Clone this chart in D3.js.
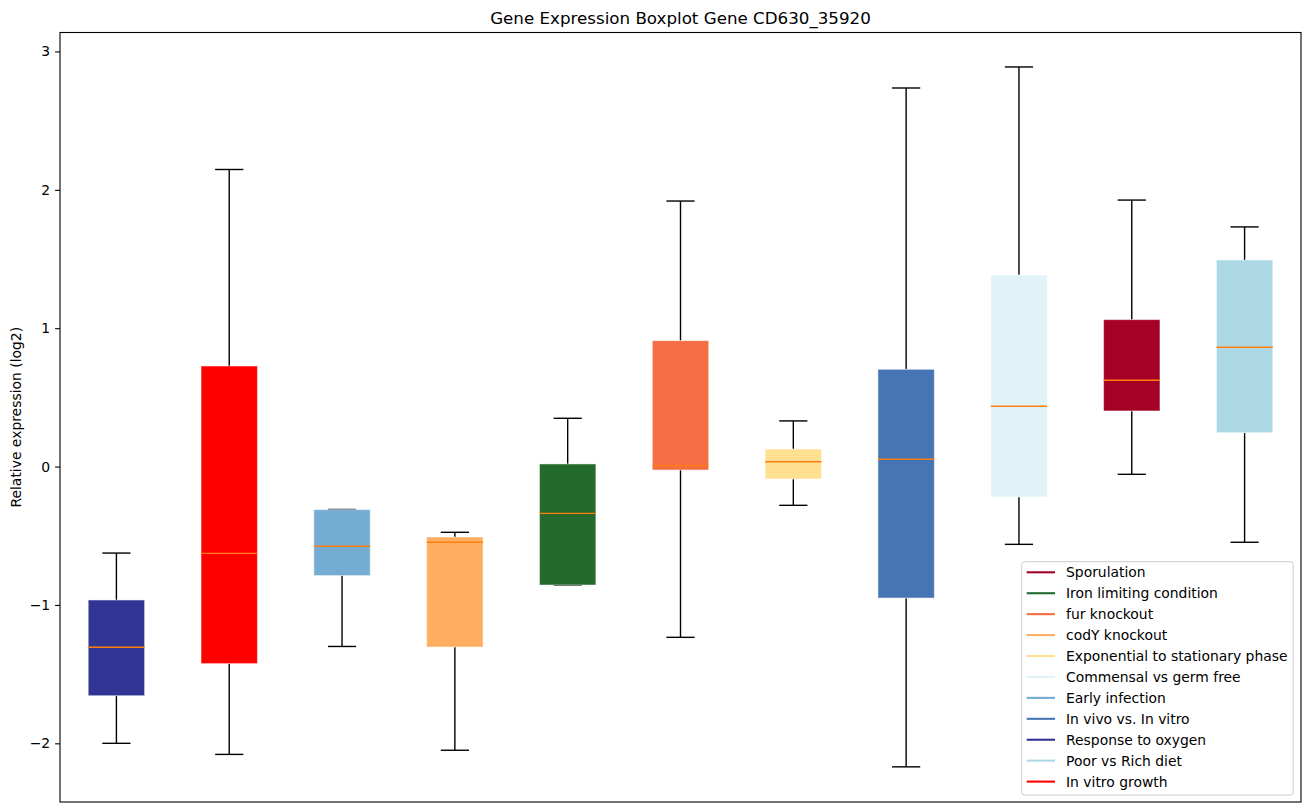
<!DOCTYPE html>
<html>
<head>
<meta charset="utf-8">
<script src="https://cdn.jsdelivr.net/npm/d3@7"></script>
<style>
  body { margin: 0; background: #fff; }
  svg { display: block; font-family: "DejaVu Sans", sans-serif; }
</style>
</head>
<body>
<div id="container"></div>
<script>
const width = 1309;
const height = 812;
const margin = { t: 32.5, r: 8, b: 10, l: 60 };

// boxes, left to right
const categories = [
  "Response to oxygen", "In vitro growth", "Early infection", "codY knockout",
  "Iron limiting condition", "fur knockout", "Exponential to stationary phase",
  "In vivo vs. In vitro", "Commensal vs germ free", "Sporulation", "Poor vs Rich diet"
];
const whiskerLow  = [-2.00, -2.08, -1.30, -2.05, -0.856, -1.234, -0.28, -2.17, -0.562, -0.056, -0.547];
const q1          = [-1.656, -1.424, -0.788, -1.304, -0.856, -0.025, -0.09, -0.95, -0.22, 0.402, 0.245];
const median      = [-1.306, -0.627, -0.576, -0.547, -0.338, 0.007, 0.035, 0.053, 0.436, 0.624, 0.862];
const q3          = [-0.964, 0.727, -0.311, -0.509, 0.019, 0.91, 0.127, 0.703, 1.385, 1.062, 1.493];
const whiskerHigh = [-0.625, 2.147, -0.31, -0.475, 0.349, 1.919, 0.33, 2.736, 2.888, 1.926, 1.732];
const colors = [
  "#313695", "#ff0000", "#74add1", "#fdae61", "#236a2c", "#f46d43",
  "#fee090", "#4575b4", "#e0f3f8", "#a50026", "#add8e6"
];
const legendOrder = [
  "Sporulation", "Iron limiting condition", "fur knockout", "codY knockout",
  "Exponential to stationary phase", "Commensal vs germ free", "Early infection",
  "In vivo vs. In vitro", "Response to oxygen", "Poor vs Rich diet", "In vitro growth"
];
const yTicks = [-2, -1, 0, 1, 2, 3];

const data = categories.map((c, i) => ({
  name: c, pos: i + 1, lo: whiskerLow[i], q1: q1[i], med: median[i],
  q3: q3[i], hi: whiskerHigh[i], color: colors[i]
}));

const x = d3.scaleLinear()
  .domain([0.5, categories.length + 0.5])
  .range([margin.l, width - margin.r]);

const y = d3.scaleLinear()
  .domain([-2.424, 3.137])
  .range([height - margin.b, margin.t]);

const boxW = x(1.25) - x(0.75);
const capW = boxW / 2;

const svg = d3.select("#container")
  .append("svg")
  .attr("width", width)
  .attr("height", height)
  .attr("viewBox", `0 0 ${width} ${height}`);

const g = svg.selectAll("g.box")
  .data(data)
  .enter()
  .append("g")
  .attr("class", "box");

// whiskers
g.append("line")
  .attr("x1", d => x(d.pos)).attr("x2", d => x(d.pos))
  .attr("y1", d => y(d.lo)).attr("y2", d => y(d.q1))
  .attr("stroke", "#000").attr("stroke-width", 1.4);
g.append("line")
  .attr("x1", d => x(d.pos)).attr("x2", d => x(d.pos))
  .attr("y1", d => y(d.q3)).attr("y2", d => y(d.hi))
  .attr("stroke", "#000").attr("stroke-width", 1.4);

// caps
g.append("line")
  .attr("x1", d => x(d.pos) - capW / 2).attr("x2", d => x(d.pos) + capW / 2)
  .attr("y1", d => y(d.lo)).attr("y2", d => y(d.lo))
  .attr("stroke", "#000").attr("stroke-width", 1.4);
g.append("line")
  .attr("x1", d => x(d.pos) - capW / 2).attr("x2", d => x(d.pos) + capW / 2)
  .attr("y1", d => y(d.hi)).attr("y2", d => y(d.hi))
  .attr("stroke", "#000").attr("stroke-width", 1.4);

// boxes
g.append("rect")
  .attr("x", d => x(d.pos) - boxW / 2)
  .attr("width", boxW)
  .attr("y", d => y(d.q3))
  .attr("height", d => y(d.q1) - y(d.q3))
  .attr("fill", d => d.color)
  .attr("stroke", "#fff")
  .attr("stroke-opacity", 0.5)
  .attr("stroke-width", 1);

// medians
g.append("line")
  .attr("x1", d => x(d.pos) - boxW / 2).attr("x2", d => x(d.pos) + boxW / 2)
  .attr("y1", d => y(d.med)).attr("y2", d => y(d.med))
  .attr("stroke", "#ff7f0e").attr("stroke-width", 1.4);

// y axis
const yAxis = svg.append("g")
  .attr("transform", `translate(${margin.l},0)`)
  .call(d3.axisLeft(y).tickValues(yTicks).tickSize(4.9).tickPadding(4.9)
    .tickFormat(d => d < 0 ? "\u2212" + Math.abs(d) : String(d)));
yAxis.select(".domain").remove();
yAxis.selectAll(".tick line").attr("stroke", "#000").attr("stroke-width", 1.1);
yAxis.selectAll(".tick text")
  .attr("fill", "#000")
  .attr("font-size", "13.9px")
  .attr("font-family", "DejaVu Sans, sans-serif");

// frame
svg.append("rect")
  .attr("x", margin.l)
  .attr("y", margin.t)
  .attr("width", width - margin.r - margin.l)
  .attr("height", height - margin.b - margin.t)
  .attr("fill", "none")
  .attr("stroke", "#000")
  .attr("stroke-width", 1.1);

// title
svg.append("text")
  .attr("x", (margin.l + width - margin.r) / 2)
  .attr("y", margin.t - 8.5)
  .attr("text-anchor", "middle")
  .attr("font-size", "16.7px")
  .text("Gene Expression Boxplot Gene CD630_35920");

// y label
const yMid = (margin.t + height - margin.b) / 2;
svg.append("text")
  .attr("transform", `translate(21,${yMid}) rotate(-90)`)
  .attr("text-anchor", "middle")
  .attr("font-size", "13.9px")
  .text("Relative expression (log2)");

// legend
const colorOf = new Map(categories.map((c, i) => [c, colors[i]]));
const lx = 1021.7, ly = 561.7, lw = 271.5, lh = 233.3, rowH = 20.93;
const legend = svg.append("g");
legend.append("rect")
  .attr("x", lx).attr("y", ly)
  .attr("width", lw).attr("height", lh)
  .attr("rx", 2.8)
  .attr("fill", "#fff").attr("fill-opacity", 0.8)
  .attr("stroke", "#cccccc").attr("stroke-width", 1);

const items = legend.selectAll("g.item")
  .data(legendOrder)
  .enter()
  .append("g")
  .attr("transform", (d, i) => `translate(0,${ly + 10.6 + i * rowH})`);
items.append("line")
  .attr("x1", lx + 5).attr("x2", lx + 33.3)
  .attr("y1", 0).attr("y2", 0)
  .attr("stroke", d => colorOf.get(d))
  .attr("stroke-width", 2.1);
items.append("text")
  .attr("x", 1066)
  .attr("y", 0)
  .attr("dy", "0.36em")
  .attr("font-size", "13.9px")
  .attr("fill", "#000")
  .text(d => d);
</script>
</body>
</html>
